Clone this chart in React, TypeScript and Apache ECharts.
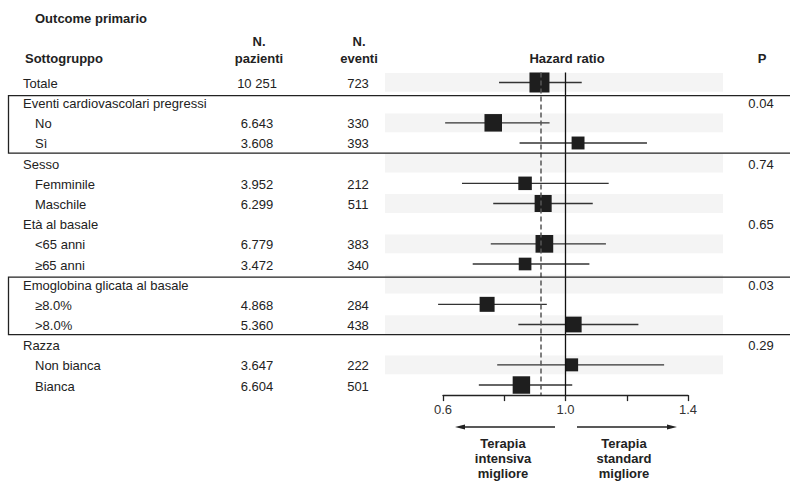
import React, { useEffect, useRef } from "react";
import * as echarts from "echarts";

// ---- Data ----
const rowLabels = [
  "Totale",
  "Eventi cardiovascolari pregressi",
  "No",
  "Sì",
  "Sesso",
  "Femminile",
  "Maschile",
  "Età al basale",
  "<65 anni",
  "≥65 anni",
  "Emoglobina glicata al basale",
  "≥8.0%",
  ">8.0%",
  "Razza",
  "Non bianca",
  "Bianca",
];
const rowIsSubgroup = [false, false, true, true, false, true, true, false, true, true, false, true, true, false, true, true];
const patients = ["10 251", "", "6.643", "3.608", "", "3.952", "6.299", "", "6.779", "3.472", "", "4.868", "5.360", "", "3.647", "6.604"];
const events = ["723", "", "330", "393", "", "212", "511", "", "383", "340", "", "284", "438", "", "222", "501"];
const pValues = ["", "0.04", "", "", "0.74", "", "", "0.65", "", "", "0.03", "", "", "0.29", "", ""];
const hazardRatio = [0.915, null, 0.764, 1.041, null, 0.868, 0.927, null, 0.931, 0.868, null, 0.744, 1.027, null, 1.02, 0.856];
const ciLower = [0.783, null, 0.607, 0.85, null, 0.662, 0.764, null, 0.756, 0.697, null, 0.584, 0.846, null, 0.777, 0.717];
const ciUpper = [1.053, null, 0.948, 1.266, null, 1.141, 1.089, null, 1.132, 1.078, null, 0.939, 1.238, null, 1.322, 1.022];
const overallHR = 0.915;
const labeledTicks = [0.6, 1.0, 1.4];
const boxedGroups = [
  [1, 3],
  [10, 12],
];

const FONT = '"Liberation Sans", Arial, Helvetica, sans-serif';
const TXT = "#222";

function parseCount(s: string): number {
  return Number(s.replace(/[^0-9]/g, "")) || 0;
}

export default function App() {
  const ref = useRef<HTMLDivElement>(null);
  useEffect(() => {
    document.body.style.margin = "0";
    if (!ref.current) return;
    const chart = echarts.init(ref.current, undefined, { renderer: "svg" });

    const forestData: any[] = [];
    hazardRatio.forEach((hr, i) => {
      if (hr == null) return;
      forestData.push([hr, i, ciLower[i], ciUpper[i], parseCount(patients[i])]);
    });

    const rowIdx = rowLabels.map((_, i) => [0, i]);
    const gridTop = 72.4;
    const gridBottom = 482 - 395.1;

    const text = (t: string, x: number, y: number, align: string, bold = false, color = TXT, size = 13) => ({
      type: "text",
      x,
      y,
      silent: true,
      style: {
        text: t,
        fill: color,
        font: `${bold ? "bold " : ""}${size}px ${FONT}`,
        textAlign: align,
        align,
        textVerticalAlign: "middle",
        verticalAlign: "middle",
      },
    });

    const option: any = {
      animation: false,
      backgroundColor: "#fff",
      grid: [
        { left: 443, right: 102, top: gridTop, bottom: gridBottom, containLabel: false },
        { left: 0, right: 0, top: gridTop, bottom: gridBottom, containLabel: false },
      ],
      xAxis: [
        {
          gridIndex: 0,
          type: "value",
          min: 0.6,
          max: 1.4,
          interval: 0.2,
          splitLine: { show: false },
          axisLine: { show: true, lineStyle: { color: "#222", width: 1.3 } },
          axisTick: { show: true, length: 6, lineStyle: { color: "#222", width: 1.3 } },
          axisLabel: {
            color: "#333",
            fontSize: 13,
            fontFamily: FONT,
            margin: 8,
            formatter: (v: number) =>
              labeledTicks.some((t) => Math.abs(t - v) < 1e-6) ? v.toFixed(1) : "",
          },
        },
        { gridIndex: 1, type: "value", min: 0, max: 790, show: false },
      ],
      yAxis: [
        { gridIndex: 0, type: "category", data: rowLabels, inverse: true, show: false },
        { gridIndex: 1, type: "category", data: rowLabels, inverse: true, show: false },
      ],
      series: [
        // Shaded bands for alternate rows
        {
          type: "custom",
          xAxisIndex: 1,
          yAxisIndex: 1,
          z: 0,
          silent: true,
          data: rowIdx.filter((_, i) => i % 2 === 0),
          renderItem: (params: any, api: any) => {
            const idx = api.value(1);
            const p1 = api.coord([385, idx]);
            const p2 = api.coord([723, idx]);
            const h = api.size([0, 1])[1] * 0.93;
            return {
              type: "rect",
              shape: { x: p1[0], y: p1[1] - h / 2, width: p2[0] - p1[0], height: h },
              style: { fill: "#f4f4f4" },
            };
          },
        },
        // Group boxes
        {
          type: "custom",
          xAxisIndex: 1,
          yAxisIndex: 1,
          z: 5,
          silent: true,
          data: boxedGroups.map((g) => [0, g[0], g[1]]),
          renderItem: (params: any, api: any) => {
            const band = api.size([0, 1])[1];
            const top = api.coord([8.5, api.value(1)]);
            const bot = api.coord([8.5, api.value(2)]);
            const y1 = top[1] - band / 2 + 3;
            const y2 = bot[1] + band / 2;
            return {
              type: "rect",
              shape: { x: top[0], y: y1, width: 800, height: y2 - y1 },
              style: { fill: "none", stroke: "#222", lineWidth: 1.3 },
            };
          },
        },
        // Table texts
        {
          type: "custom",
          xAxisIndex: 1,
          yAxisIndex: 1,
          z: 6,
          silent: true,
          data: rowIdx,
          renderItem: (params: any, api: any) => {
            const i = api.value(1);
            const y = api.coord([0, i])[1] + 1;
            const children: any[] = [];
            children.push(text(rowLabels[i], rowIsSubgroup[i] ? 35 : 23, y, "left"));
            if (patients[i]) children.push(text(patients[i], 257, y, "center"));
            if (events[i]) children.push(text(events[i], 358, y, "center"));
            if (pValues[i]) children.push(text(pValues[i], 761, y, "center"));
            return { type: "group", children };
          },
        },
        // Reference lines
        {
          type: "line",
          xAxisIndex: 0,
          yAxisIndex: 0,
          data: [],
          z: 2,
          markLine: {
            silent: true,
            symbol: "none",
            label: { show: false },
            data: [
              { xAxis: 1, lineStyle: { color: "#111", width: 1.3, type: "solid" } },
              { xAxis: overallHR, lineStyle: { color: "#555", width: 1.5, type: [5, 3] } },
            ],
          },
        },
        // Forest markers
        {
          type: "custom",
          xAxisIndex: 0,
          yAxisIndex: 0,
          z: 4,
          silent: true,
          data: forestData,
          renderItem: (params: any, api: any) => {
            const idx = api.value(1);
            const c = api.coord([api.value(0), idx]);
            const lo = api.coord([api.value(2), idx]);
            const hi = api.coord([api.value(3), idx]);
            const s = Math.min(20, 0.215 * Math.sqrt(api.value(4)));
            return {
              type: "group",
              children: [
                {
                  type: "line",
                  shape: { x1: lo[0], y1: c[1], x2: hi[0], y2: c[1] },
                  style: { stroke: "#333", lineWidth: 1.3 },
                },
                {
                  type: "rect",
                  shape: { x: c[0] - s / 2, y: c[1] - s / 2, width: s, height: s },
                  style: { fill: "#1e1e1e" },
                },
              ],
            };
          },
        },
      ],
      graphic: [
        text("Outcome primario", 35, 18, "left", true, "#222", 13),
        text("Sottogruppo", 25, 58, "left", true),
        text("N.", 259, 41, "center", true),
        text("pazienti", 259, 58, "center", true),
        text("N.", 359, 41, "center", true),
        text("eventi", 359, 58, "center", true),
        text("Hazard ratio", 567, 58, "center", true),
        text("P", 762, 58, "center", true),
        {
          type: "line",
          silent: true,
          shape: { x1: 555, y1: 427, x2: 463, y2: 427 },
          style: { stroke: "#222", lineWidth: 1.3 },
        },
        {
          type: "polygon",
          silent: true,
          shape: { points: [[455, 427], [465, 424.5], [465, 429.5]] },
          style: { fill: "#222" },
        },
        {
          type: "line",
          silent: true,
          shape: { x1: 577, y1: 427, x2: 669, y2: 427 },
          style: { stroke: "#222", lineWidth: 1.3 },
        },
        {
          type: "polygon",
          silent: true,
          shape: { points: [[677, 427], [667, 424.5], [667, 429.5]] },
          style: { fill: "#222" },
        },
        text("Terapia", 503, 443, "center", true),
        text("intensiva", 503, 458.5, "center", true),
        text("migliore", 503, 473.5, "center", true),
        text("Terapia", 624, 443, "center", true),
        text("standard", 624, 458.5, "center", true),
        text("migliore", 624, 473.5, "center", true),
      ],
    };

    chart.setOption(option);
    return () => chart.dispose();
  }, []);

  return <div ref={ref} style={{ width: 790, height: 482 }} />;
}
